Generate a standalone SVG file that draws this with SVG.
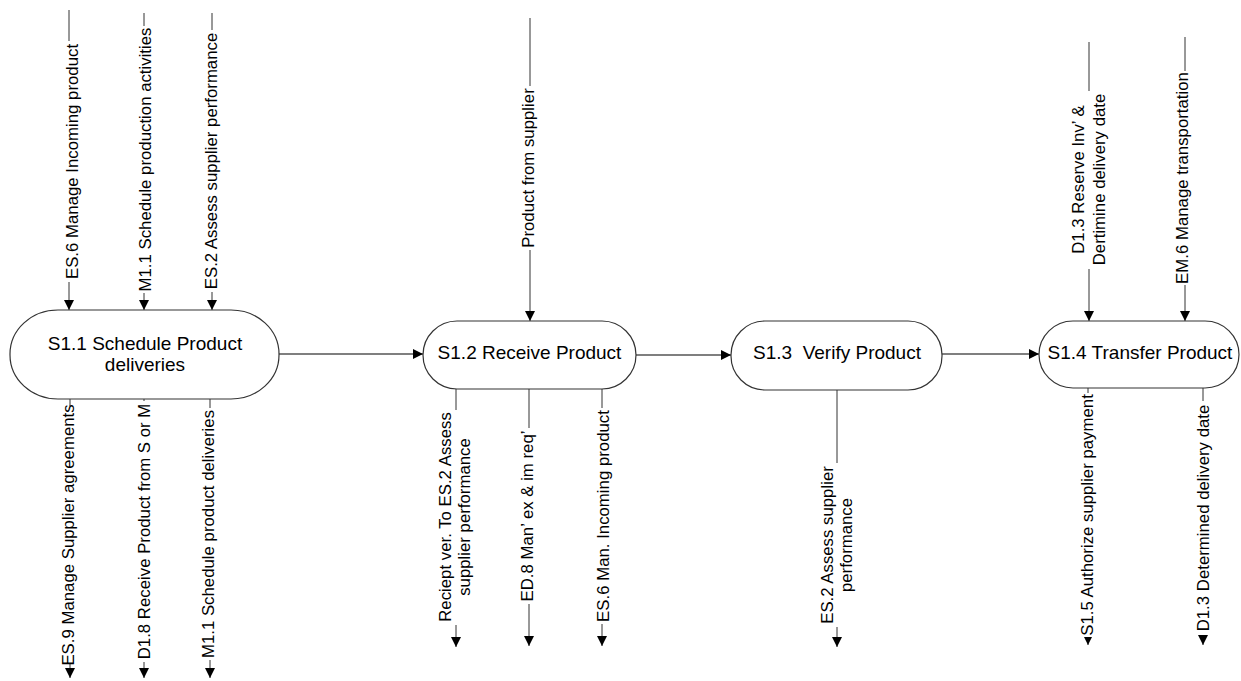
<svg xmlns="http://www.w3.org/2000/svg" width="1241" height="681" viewBox="0 0 1241 681">
<style>
.node{fill:#fff;stroke:#333;stroke-width:1.2}
.nt{font-family:"Liberation Sans",Arial,sans-serif;font-size:19px;fill:#000;text-anchor:middle}
.ln{stroke:#333;stroke-width:1;fill:none}
.hl{stroke:#555;stroke-width:1.3;fill:none}
.lt{font-family:"Liberation Sans",Arial,sans-serif;font-size:16.8px;fill:#000;text-anchor:middle}
.bg{fill:#fff}
</style>
<defs>
<marker id="ah" markerWidth="10" markerHeight="10" refX="10" refY="5" orient="auto" markerUnits="userSpaceOnUse">
<path d="M0,0 L10,5 L0,10 z" fill="#000"/>
</marker>
</defs>
<g id="connectors">
<line class="hl" x1="279" y1="354" x2="423" y2="354" marker-end="url(#ah)"/>
<line class="hl" x1="636" y1="355" x2="731" y2="355" marker-end="url(#ah)"/>
<line class="hl" x1="942" y1="354" x2="1039" y2="354" marker-end="url(#ah)"/>
<line class="ln" x1="69" y1="10" x2="69" y2="310" marker-end="url(#ah)"/>
<line class="ln" x1="144" y1="13" x2="144" y2="310" marker-end="url(#ah)"/>
<line class="ln" x1="212" y1="13" x2="212" y2="310" marker-end="url(#ah)"/>
<line class="ln" x1="530" y1="18" x2="530" y2="321" marker-end="url(#ah)"/>
<line class="ln" x1="1089" y1="42" x2="1089" y2="321" marker-end="url(#ah)"/>
<line class="ln" x1="1185" y1="37" x2="1185" y2="321" marker-end="url(#ah)"/>
<line class="ln" x1="70" y1="399" x2="70" y2="678" marker-end="url(#ah)"/>
<line class="ln" x1="144" y1="399" x2="144" y2="678" marker-end="url(#ah)"/>
<line class="ln" x1="210" y1="399" x2="210" y2="678" marker-end="url(#ah)"/>
<line class="ln" x1="456" y1="389" x2="456" y2="647" marker-end="url(#ah)"/>
<line class="ln" x1="529" y1="389" x2="529" y2="646" marker-end="url(#ah)"/>
<line class="ln" x1="602" y1="389" x2="602" y2="646" marker-end="url(#ah)"/>
<line class="ln" x1="837" y1="390" x2="837" y2="647" marker-end="url(#ah)"/>
<line class="ln" x1="1088" y1="388" x2="1088" y2="645" marker-end="url(#ah)"/>
<line class="ln" x1="1203" y1="388" x2="1203" y2="645" marker-end="url(#ah)"/>
<rect class="bg" x="62" y="41" width="21" height="241"/>
<rect class="bg" x="136" y="26" width="20" height="267"/>
<rect class="bg" x="201" y="30" width="21" height="262"/>
<rect class="bg" x="518" y="86" width="21" height="164"/>
<rect class="bg" x="1067" y="91" width="44" height="178"/>
<rect class="bg" x="1172" y="71" width="21" height="214"/>
<rect class="bg" x="59" y="406" width="20" height="258"/>
<rect class="bg" x="135" y="401" width="20" height="261"/>
<rect class="bg" x="199" y="408" width="20" height="252"/>
<rect class="bg" x="433" y="410" width="44" height="215"/>
<rect class="bg" x="518" y="428" width="21" height="176"/>
<rect class="bg" x="594" y="408" width="21" height="216"/>
<rect class="bg" x="815" y="463" width="43" height="164"/>
<rect class="bg" x="1077" y="393" width="21" height="244"/>
<rect class="bg" x="1194" y="401" width="20" height="234"/>
<text class="lt" transform="translate(69,161.5) rotate(-90)" y="8.5">ES.6 Manage Incoming product</text>
<text class="lt" transform="translate(144,159.5) rotate(-90)" y="7">M1.1 Schedule production activities</text>
<text class="lt" transform="translate(212,161) rotate(-90)" y="4.5">ES.2 Assess supplier performance</text>
<text class="lt" transform="translate(530,168) rotate(-90)" y="3.5">Product from supplier</text>
<text class="lt" transform="translate(1089,179.5) rotate(-90)"><tspan x="0" y="-5">D1.3 Reserve Inv’ &amp;</tspan><tspan x="0" y="16">Dertimine delivery date</tspan></text>
<text class="lt" transform="translate(1185,178) rotate(-90)" y="3">EM.6 Manage transportation</text>
<text class="lt" transform="translate(70,535) rotate(-90)" y="4">ES.9 Manage Supplier agreements</text>
<text class="lt" transform="translate(144,531.5) rotate(-90)" y="6">D1.8 Receive Product from S or M</text>
<text class="lt" transform="translate(210,534) rotate(-90)" y="4">M1.1 Schedule product deliveries</text>
<text class="lt" transform="translate(456,517) rotate(-90)"><tspan x="0" y="-5">Reciept ver. To ES.2 Assess</tspan><tspan x="0" y="14">supplier performance</tspan></text>
<text class="lt" transform="translate(529,516) rotate(-90)" y="4">ED.8 Man’ ex &amp; im req’</text>
<text class="lt" transform="translate(602,516) rotate(-90)" y="7">ES.6 Man. Incoming product</text>
<text class="lt" transform="translate(837,545) rotate(-90)"><tspan x="0" y="-4">ES.2 Assess supplier</tspan><tspan x="0" y="15">performance</tspan></text>
<text class="lt" transform="translate(1088,515) rotate(-90)" y="5">S1.5 Authorize supplier payment</text>
<text class="lt" transform="translate(1203,518) rotate(-90)" y="6">D1.3 Determined delivery date</text>
</g>
<g id="S1.1">
<rect class="node" x="10" y="310" width="269" height="89" rx="48" ry="44"/>
<text class="nt" x="145" y="350">S1.1 Schedule Product</text>
<text class="nt" x="145" y="371">deliveries</text>
</g>
<g id="S1.2">
<rect class="node" x="423" y="321" width="213" height="68" rx="34" ry="34"/>
<text class="nt" x="529.5" y="359">S1.2 Receive Product</text>
</g>
<g id="S1.3">
<rect class="node" x="731" y="321" width="211" height="69" rx="34" ry="34"/>
<text class="nt" x="837" y="359" xml:space="preserve">S1.3  Verify Product</text>
</g>
<g id="S1.4">
<rect class="node" x="1039" y="321" width="200" height="67" rx="34" ry="34"/>
<text class="nt" x="1140" y="359">S1.4 Transfer Product</text>
</g>
</svg>
